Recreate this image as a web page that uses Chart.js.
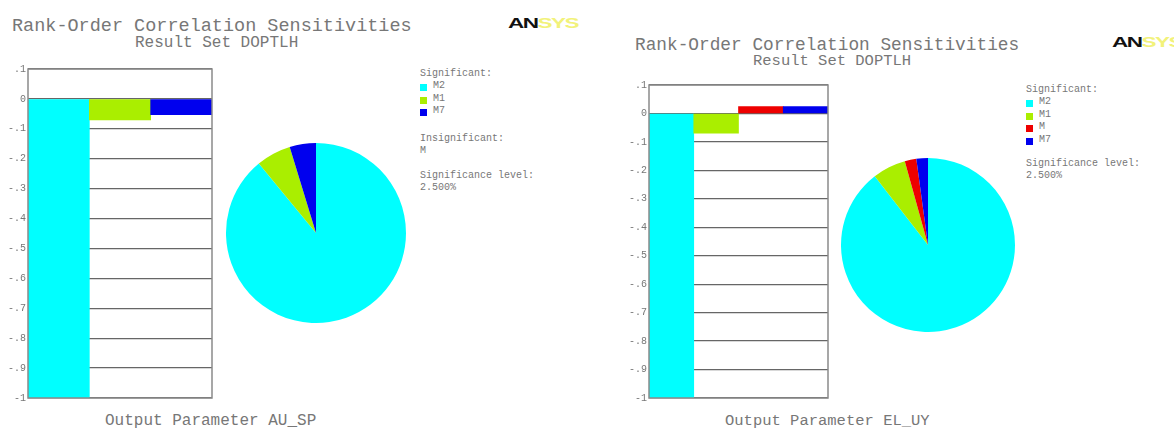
<!DOCTYPE html>
<html>
<head>
<meta charset="utf-8">
<script src="https://cdn.jsdelivr.net/npm/chart.js@4.4.0/dist/chart.umd.min.js"></script>
<style>
  body { margin: 0; background: #fff; width: 1174px; height: 430px; overflow: hidden; position: relative;
         font-family: "Liberation Mono", "DejaVu Sans Mono", monospace; color: #777; }
  .t { position: absolute; white-space: pre; line-height: 1; }
  .box { position: absolute; width: 7px; height: 7px; }
  .logo { position: absolute; font-family: "Liberation Sans", Arial, sans-serif; font-weight: bold;
          font-size: 15px; line-height: 1; transform: scaleX(1.5); transform-origin: left top; letter-spacing: -1px; }
  .logo b { color: #111; }
  .logo span { color: #f2f27a; }
  canvas { position: absolute; }
</style>
</head>
<body>

<div class="t" style="left:12px;top:18px;font-size:18.5px">Rank-Order Correlation Sensitivities</div>
<div class="t" style="left:135px;top:35px;font-size:16px">Result Set DOPTLH</div>
<div class="logo" style="left:508px;top:15px"><b>AN</b><span>SYS</span></div>
<div class="t" style="left:105px;top:413px;font-size:16px">Output Parameter AU_SP</div>

<div class="t" style="left:635px;top:37px;font-size:17.8px">Rank-Order Correlation Sensitivities</div>
<div class="t" style="left:753px;top:54px;font-size:15.5px">Result Set DOPTLH</div>
<div class="logo" style="left:1112px;top:34px"><b>AN</b><span>SYS</span></div>
<div class="t" style="left:725px;top:414px;font-size:15.5px">Output Parameter EL_UY</div>

<canvas id="barLeft" width="214" height="345" style="left:0;top:61px"></canvas>
<canvas id="pieLeft" width="180" height="180" style="left:226px;top:143px"></canvas>
<canvas id="barRight" width="210" height="329" style="left:620px;top:77px"></canvas>
<canvas id="pieRight" width="174" height="174" style="left:841px;top:158px"></canvas>

<div id="legendLeft"></div>
<div id="legendRight"></div>

<script>
// AU_SP sensitivities
const leftParams = ['M2', 'M1', 'M7'];
const leftCorr = [-1.0, -0.07, -0.053];
const leftColors = ['#00ffff', '#aaee00', '#0000ee'];
const leftInsignificant = ['M'];

// EL_UY sensitivities
const rightParams = ['M2', 'M1', 'M', 'M7'];
const rightCorr = [-1.0, -0.069, 0.024, 0.024];
const rightColors = ['#00ffff', '#aaee00', '#ee0000', '#0000ee'];
const rightInsignificant = [];

const significanceLevel = '2.500%';
const yMin = -1, yMax = 0.1, yStep = 0.1;

// .1, 0, -.1 ... -1 like the ANSYS plot labels
function fmtTick(v) {
  const r = Math.round(v * 10) / 10;
  return String(r).replace('0.', '.');
}

const framePlugin = {
  id: 'frame',
  afterDatasetsDraw(chart) {
    const a = chart.chartArea, ctx = chart.ctx;
    ctx.save();
    ctx.strokeStyle = '#8a8a8a';
    ctx.lineWidth = 1.5;
    ctx.strokeRect(a.left, a.top, a.right - a.left, a.bottom - a.top);
    ctx.restore();
  }
};

function barChart(id, labels, values, colors, axisWidth) {
  return new Chart(document.getElementById(id), {
    type: 'bar',
    data: {
      labels: labels,
      datasets: [{ data: values, backgroundColor: colors, borderWidth: 0,
                   categoryPercentage: 1, barPercentage: 1 }]
    },
    options: {
      responsive: false,
      animation: false,
      layout: { padding: { right: 2 } },
      plugins: { legend: { display: false }, tooltip: { enabled: false } },
      scales: {
        x: { display: false },
        y: {
          min: yMin, max: yMax,
          afterFit(scale) { scale.width = axisWidth; },
          border: { display: false },
          grid: { color: '#666', lineWidth: 1.2, drawTicks: false },
          ticks: { stepSize: yStep, padding: 2, color: '#777', callback: fmtTick,
                   font: { family: 'Liberation Mono', size: 10 } }
        }
      }
    },
    plugins: [framePlugin]
  });
}

function pieChart(id, values, colors) {
  return new Chart(document.getElementById(id), {
    type: 'pie',
    data: { datasets: [{ data: values.map(Math.abs), backgroundColor: colors,
                         borderWidth: 0, hoverOffset: 0 }] },
    options: {
      responsive: false,
      animation: false,
      plugins: { legend: { display: false }, tooltip: { enabled: false } }
    }
  });
}

barChart('barLeft', leftParams, leftCorr, leftColors, 28);
barChart('barRight', rightParams, rightCorr, rightColors, 29);
pieChart('pieLeft', leftCorr, leftColors);
pieChart('pieRight', rightCorr, rightColors);

// text legend beside each pie
function legend(id, x, y, params, colors, insignificant) {
  const el = document.getElementById(id);
  let html = '';
  const row = 12.5;
  html += `<div class="t" style="left:${x}px;top:${y}px;font-size:10px">Significant:</div>`;
  let cy = y + 14;
  params.forEach((p, i) => {
    html += `<div class="box" style="left:${x}px;top:${cy + 1}px;background:${colors[i]}"></div>`;
    html += `<div class="t" style="left:${x + 13}px;top:${cy - 2}px;font-size:10px">${p}</div>`;
    cy += row;
  });
  cy += 10;
  if (insignificant.length) {
    cy += 3;
    html += `<div class="t" style="left:${x}px;top:${cy}px;font-size:10px">Insignificant:</div>`;
    cy += 12;
    insignificant.forEach(p => {
      html += `<div class="t" style="left:${x}px;top:${cy}px;font-size:10px">${p}</div>`;
      cy += 12;
    });
    cy += 13;
  }
  html += `<div class="t" style="left:${x}px;top:${cy}px;font-size:10px">Significance level:</div>`;
  html += `<div class="t" style="left:${x}px;top:${cy + 12}px;font-size:10px">${significanceLevel}</div>`;
  el.innerHTML = html;
}

legend('legendLeft', 420, 69, leftParams, leftColors, leftInsignificant);
legend('legendRight', 1026, 85, rightParams, rightColors, rightInsignificant);
</script>
</body>
</html>
